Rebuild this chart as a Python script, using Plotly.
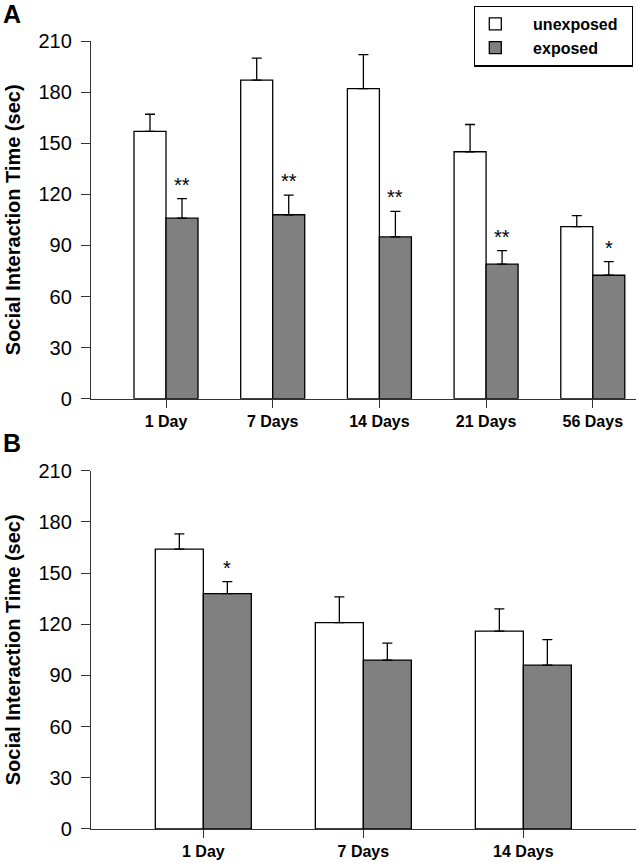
import plotly.graph_objects as go

# ---- data ----
days_a = ["1 Day", "7 Days", "14 Days", "21 Days", "56 Days"]
unexp_a = [157, 187, 182, 145, 101]
unexp_a_err = [10, 13, 20, 16, 6.5]
exp_a = [106, 108, 95, 79, 72.5]
exp_a_err = [11.5, 11.5, 15, 8, 8]
sig_a = ["**", "**", "**", "**", "*"]

days_b = ["1 Day", "7 Days", "14 Days"]
unexp_b = [164, 121, 116]
unexp_b_err = [9, 15, 13]
exp_b = [138, 99, 96]
exp_b_err = [7, 10, 15]
sig_b = ["*", "", ""]

y_ticks = [0, 30, 60, 90, 120, 150, 180, 210]

FONT = "Liberation Sans, Arial, sans-serif"
GRAY = "#808080"

fig = go.Figure()


def add_panel(days, unexp, unexp_err, exp, exp_err, xa, ya, show_legend):
    n = len(days)
    fig.add_trace(go.Bar(
        x=days, y=unexp, name="unexposed", xaxis=xa, yaxis=ya,
        marker=dict(color="white", line=dict(color="black", width=1.3)),
        error_y=dict(type="data", symmetric=False, array=unexp_err,
                     arrayminus=[0] * n, color="black", thickness=1.3, width=5),
        showlegend=show_legend, legendgroup="u",
    ))
    fig.add_trace(go.Bar(
        x=days, y=exp, name="exposed", xaxis=xa, yaxis=ya,
        marker=dict(color=GRAY, line=dict(color="black", width=1.3)),
        error_y=dict(type="data", symmetric=False, array=exp_err,
                     arrayminus=[0] * n, color="black", thickness=1.3, width=5),
        showlegend=show_legend, legendgroup="e",
    ))


add_panel(days_a, unexp_a, unexp_a_err, exp_a, exp_a_err, "x", "y", True)
add_panel(days_b, unexp_b, unexp_b_err, exp_b, exp_b_err, "x2", "y2", False)

annotations = []
for sig, exp, err, xr, yr in [(sig_a, exp_a, exp_a_err, "x", "y"),
                              (sig_b, exp_b, exp_b_err, "x2", "y2")]:
    for i, s in enumerate(sig):
        if s:
            annotations.append(dict(
                x=i + 0.15, y=exp[i] + err[i], xref=xr, yref=yr,
                text=s, showarrow=False, yanchor="middle", yshift=14,
                font=dict(size=20, color="black", family=FONT)))

annotations.append(dict(x=-91 / 545, y=(829.3 - 14.5) / 788, xref="paper", yref="paper",
                        xanchor="left", yanchor="middle", text="<b>A</b>",
                        showarrow=False, xshift=1,
                        font=dict(size=25, color="black", family=FONT)))
annotations.append(dict(x=-91 / 545, y=(829.3 - 443) / 788, xref="paper", yref="paper",
                        xanchor="left", yanchor="middle", text="<b>B</b>",
                        showarrow=False, xshift=1,
                        font=dict(size=25, color="black", family=FONT)))

xaxis_common = dict(
    type="category", showline=True, linecolor="#333", linewidth=1.3,
    ticks="outside", ticklen=8, tickcolor="#333", tickwidth=1.3,
    showgrid=False, zeroline=False,
    tickfont=dict(size=16, color="black", family=FONT),
)
yaxis_common = dict(
    range=[0, 210], tickvals=y_ticks, showline=True, linecolor="#333",
    linewidth=1.3, ticks="outside", ticklen=9, tickcolor="#333", tickwidth=1.3,
    showgrid=False, zeroline=False, ticklabelstandoff=5,
    tickfont=dict(size=20, color="black", family=FONT),
    title=dict(text="<b>Social Interaction Time (sec)</b>",
               font=dict(size=20, color="black", family=FONT), standoff=12),
)

fig.update_layout(
    width=638, height=863,
    margin=dict(l=91, r=2, t=41, b=34, autoexpand=False),
    paper_bgcolor="white", plot_bgcolor="white",
    barmode="group", bargap=0.4, bargroupgap=0,
    font=dict(family=FONT, color="black"),
    xaxis=dict(domain=[0, 1], anchor="y", range=[-0.703, 4.405],
               tickvals=days_a, ticktext=["<b>%s</b>" % d for d in days_a],
               **xaxis_common),
    yaxis=dict(domain=[0.546, 1.0], anchor="x", **yaxis_common),
    xaxis2=dict(domain=[0, 1], anchor="y2", range=[-0.702, 2.704],
                tickvals=days_b, ticktext=["<b>%s</b>" % d for d in days_b],
                **xaxis_common),
    yaxis2=dict(domain=[0, 0.4547], anchor="x2", **yaxis_common),
    legend=dict(x=(633 - 91) / 545, y=(829.3 - 6) / 788, xanchor="right", yanchor="top",
                bordercolor="black", borderwidth=1.3, bgcolor="white",
                font=dict(size=16, color="black", family=FONT),
                traceorder="normal"),
    annotations=annotations,
)

# bold legend labels with extra spacing as in the reference
fig.data[0].name = "\u00a0\u00a0\u00a0\u00a0<b>unexposed</b>\u00a0\u00a0"
fig.data[1].name = "\u00a0\u00a0\u00a0\u00a0<b>exposed</b>"

fig.write_html("out.html", config={"displayModeBar": False},
               post_script="document.body.style.margin='0';document.body.style.padding='0';")
